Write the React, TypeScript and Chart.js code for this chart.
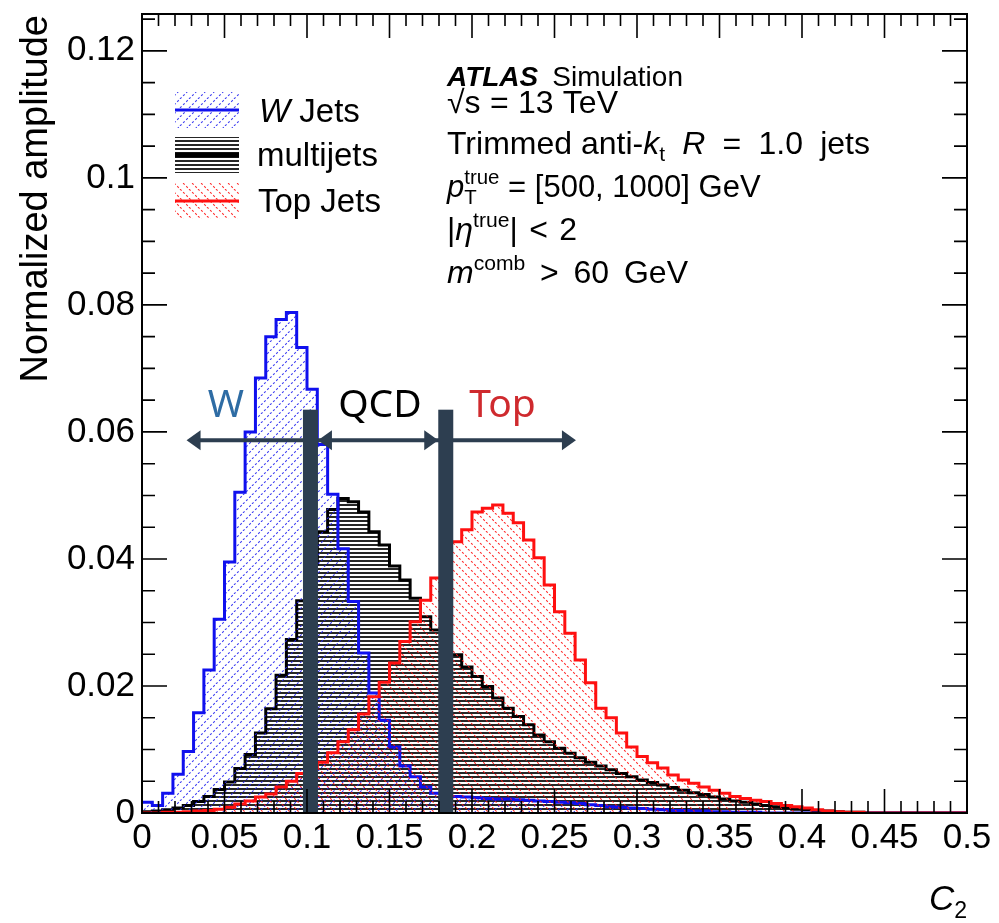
import React, { useEffect, useRef } from "react";
import { Chart, registerables } from "chart.js";

Chart.register(...registerables);

// ---------------- data ----------------
const X_MIN = 0;
const X_MAX = 0.5;
const Y_MIN = 0;
const Y_MAX = 0.1258;

const xTickValues = [0, 0.05, 0.1, 0.15, 0.2, 0.25, 0.3, 0.35, 0.4, 0.45, 0.5];
const yTickValues = [0, 0.02, 0.04, 0.06, 0.08, 0.1, 0.12];
const X_MINOR_STEP = 0.01;
const Y_MINOR_STEP = 0.005;

// 80 bins, 0 .. 0.5
const wJets = [
  0.0017, 0.0012, 0.0031, 0.0061, 0.0097, 0.0158, 0.0225, 0.0305, 0.0395, 0.0505,
  0.06, 0.0685, 0.075, 0.0777, 0.0788, 0.0733, 0.0667, 0.058, 0.0502, 0.0416,
  0.0333, 0.0252, 0.0189, 0.0146, 0.0104, 0.0074, 0.0057, 0.0041, 0.0031, 0.0028,
  0.0026, 0.0025, 0.0024, 0.0023, 0.0022, 0.0022, 0.0021, 0.002, 0.0019, 0.0018,
  0.0017, 0.0016, 0.0015, 0.0013, 0.0012, 0.001, 0.0009, 0.0008, 0.0007, 0.0006,
  0.0005, 0.0004, 0.0004, 0.0003, 0.0003, 0.0002, 0.0002, 0.0001, 0.0001, 0.0001,
  0, 0, 0, 0, 0, 0, 0, 0, 0, 0,
  0, 0, 0, 0, 0, 0, 0, 0, 0, 0,
];

const multijets = [
  0.0002, 0.0003, 0.0005, 0.0008, 0.0012, 0.0018, 0.0026, 0.0037, 0.0049, 0.007,
  0.0092, 0.0126, 0.0164, 0.0217, 0.0273, 0.0334, 0.0392, 0.0443, 0.0478, 0.0495,
  0.049, 0.0474, 0.0443, 0.0422, 0.0389, 0.0367, 0.0338, 0.0309, 0.0288, 0.0268,
  0.0249, 0.023, 0.0215, 0.0199, 0.0181, 0.0165, 0.0152, 0.0139, 0.0123, 0.0112,
  0.0102, 0.0094, 0.0087, 0.008, 0.0074, 0.0068, 0.0062, 0.0057, 0.0052, 0.0048,
  0.0044, 0.004, 0.0036, 0.0032, 0.0029, 0.0025, 0.0022, 0.0019, 0.0017, 0.0014,
  0.0012, 0.001, 0.0008, 0.0006, 0.0005, 0.0004, 0.0003, 0.0002, 0.0001, 0.0001,
  0, 0, 0, 0, 0, 0, 0, 0, 0, 0,
];

const topJets = [
  0, 0, 0.0001, 0.0001, 0.0002, 0.0003, 0.0004, 0.0006, 0.0009, 0.0014,
  0.0019, 0.0025, 0.003, 0.0041, 0.005, 0.0062, 0.0071, 0.008, 0.0095, 0.0112,
  0.0131, 0.0156, 0.0183, 0.0206, 0.0236, 0.027, 0.0301, 0.0335, 0.037, 0.04,
  0.0427, 0.0446, 0.0474, 0.048, 0.0485, 0.0472, 0.0457, 0.043, 0.0402, 0.0359,
  0.0317, 0.0283, 0.0241, 0.0205, 0.0165, 0.015, 0.0126, 0.0104, 0.0089, 0.0079,
  0.0071, 0.006, 0.0052, 0.0047, 0.0041, 0.0036, 0.0031, 0.0026, 0.0023, 0.002,
  0.0018, 0.0015, 0.0012, 0.001, 0.0008, 0.0005, 0.0003, 0.0002, 0.0001, 0.0001,
  0, 0, 0, 0, 0, 0, 0, 0, 0, 0,
];

const legendLabels = ["W Jets", "multijets", "Top Jets"];

// annotation values (data units)
const cutWQCD = 0.1021;
const cutQCDTop = 0.1841;
const cutBarTop = 0.0635;
const arrowY = 0.0587;
const arrowLeftEnd = 0.027;
const arrowRightEnd = 0.263;
const regionLabels = [
  { text: "W", x: 0.0509, y: 0.0624, color: "#2e6ca4" },
  { text: "QCD", x: 0.1442, y: 0.0624, color: "#000000" },
  { text: "Top", x: 0.2185, y: 0.0624, color: "#cf2a2e" },
];

// ---------------- helpers ----------------
const FONT = '"Liberation Sans", Arial, Helvetica, sans-serif';
const DARK = "#2d3e50";

function fmt(v: number) {
  return String(Number(v.toFixed(3)));
}

function toSteps(vals: number[]) {
  const bw = (X_MAX - X_MIN) / vals.length;
  const pts = vals.map((v, i) => ({ x: X_MIN + i * bw, y: v }));
  pts.push({ x: X_MAX, y: vals[vals.length - 1] });
  return pts;
}

function makePattern(kind: "w" | "m" | "t"): CanvasPattern | string {
  const c = document.createElement("canvas");
  const ctx = c.getContext("2d");
  if (!ctx) return "transparent";
  if (kind === "m") {
    c.width = 4;
    c.height = 4;
    ctx.fillStyle = "rgba(0,0,0,0.85)";
    ctx.fillRect(0, 0, 4, 2);
  } else {
    const s = 9;
    c.width = s;
    c.height = s;
    ctx.lineWidth = 1.1;
    ctx.setLineDash([2.2, 2.2]);
    ctx.strokeStyle = kind === "w" ? "rgba(40,40,240,0.9)" : "rgba(255,20,20,0.9)";
    for (const off of [-s, 0, s]) {
      ctx.beginPath();
      if (kind === "w") {
        ctx.moveTo(off, s);
        ctx.lineTo(off + s, 0);
      } else {
        ctx.moveTo(off, 0);
        ctx.lineTo(off + s, s);
      }
      ctx.stroke();
    }
  }
  const p = ctx.createPattern(c, "repeat");
  return p || "transparent";
}

// w: spaces inside this segment are widened to reach the target width
type Seg = { t?: string; it?: boolean; bold?: boolean; sup?: boolean; sub?: boolean; w?: boolean; stack?: [string, string] };

function drawRich(
  ctx: CanvasRenderingContext2D,
  x: number,
  y: number,
  segs: Seg[],
  size: number,
  target?: number,
  draw = true
): number {
  let extra = 0;
  if (target && draw) {
    const natural = drawRich(ctx, x, y, segs, size, undefined, false) - x;
    let spaces = 0;
    for (const s of segs) if (s.w && s.t) spaces += (s.t.match(/ /g) || []).length;
    if (spaces > 0) extra = Math.max(0, (target - natural) / spaces);
  }
  let cx = x;
  ctx.textAlign = "left";
  ctx.textBaseline = "alphabetic";
  for (const s of segs) {
    if (s.stack) {
      const small = size * 0.66;
      ctx.font = `${small}px ${FONT}`;
      const w1 = ctx.measureText(s.stack[0]).width;
      const w2 = ctx.measureText(s.stack[1]).width;
      if (draw) {
        ctx.fillText(s.stack[0], cx, y - size * 0.42);
        ctx.fillText(s.stack[1], cx, y + size * 0.22);
      }
      cx += Math.max(w1, w2);
      continue;
    }
    const sz = s.sub || s.sup ? size * 0.66 : size;
    ctx.font = `${s.it ? "italic " : ""}${s.bold ? "bold " : ""}${sz}px ${FONT}`;
    const dy = s.sup ? -size * 0.42 : s.sub ? size * 0.22 : 0;
    const txt = s.t || "";
    if (extra && s.w && txt.includes(" ")) {
      const parts = txt.split(" ");
      for (let i = 0; i < parts.length; i++) {
        if (parts[i]) {
          if (draw) ctx.fillText(parts[i], cx, y + dy);
          cx += ctx.measureText(parts[i]).width;
        }
        if (i < parts.length - 1) cx += ctx.measureText(" ").width + extra;
      }
    } else {
      if (draw) ctx.fillText(txt, cx, y + dy);
      cx += ctx.measureText(txt).width;
    }
  }
  return cx;
}

function arrowHead(ctx: CanvasRenderingContext2D, tipX: number, y: number, dir: number) {
  const len = 14;
  const half = 10;
  ctx.beginPath();
  ctx.moveTo(tipX, y);
  ctx.lineTo(tipX - dir * len, y - half);
  ctx.lineTo(tipX - dir * len, y + half);
  ctx.closePath();
  ctx.fill();
}

const framePlugin = {
  id: "rootFrame",
  afterDatasetsDraw(chart: any) {
    const { ctx, scales } = chart;
    const xs = scales.x;
    const ys = scales.y;
    const yB = ys.getPixelForValue(0);
    const yTopBar = ys.getPixelForValue(cutBarTop);
    const yArr = ys.getPixelForValue(arrowY);
    const x1 = xs.getPixelForValue(cutWQCD);
    const x2 = xs.getPixelForValue(cutQCDTop);
    const barW = 15;
    ctx.save();
    ctx.strokeStyle = DARK;
    ctx.fillStyle = DARK;
    ctx.lineWidth = 4;
    const xl = xs.getPixelForValue(arrowLeftEnd);
    const xr = xs.getPixelForValue(arrowRightEnd);
    ctx.beginPath();
    ctx.moveTo(xl + 8, yArr);
    ctx.lineTo(xr - 8, yArr);
    ctx.stroke();
    arrowHead(ctx, xl, yArr, -1);
    arrowHead(ctx, x1 + barW / 2, yArr, -1);
    arrowHead(ctx, x2 - barW / 2, yArr, 1);
    arrowHead(ctx, xr, yArr, 1);
    ctx.fillRect(x1 - barW / 2, yTopBar, barW, yB - yTopBar);
    ctx.fillRect(x2 - barW / 2, yTopBar, barW, yB - yTopBar);
    ctx.font = `39px "Noto Sans", "Open Sans", sans-serif`;
    ctx.textAlign = "center";
    ctx.textBaseline = "alphabetic";
    for (const l of regionLabels) {
      ctx.fillStyle = l.color;
      ctx.fillText(l.text, xs.getPixelForValue(l.x), ys.getPixelForValue(l.y));
    }
    ctx.restore();
  },
  afterDraw(chart: any) {
    const { ctx, chartArea, scales } = chart;
    const { left, right, top, bottom } = chartArea;
    const xs = scales.x;
    const ys = scales.y;
    ctx.save();
    ctx.strokeStyle = "#000";
    ctx.lineWidth = 2;
    ctx.strokeRect(left, top, right - left, bottom - top);
    ctx.lineWidth = 1.6;
    ctx.beginPath();
    const nX = Math.round((X_MAX - X_MIN) / X_MINOR_STEP);
    for (let i = 0; i <= nX; i++) {
      const v = X_MIN + i * X_MINOR_STEP;
      const major = xTickValues.some((t) => Math.abs(t - v) < 1e-9);
      const len = major ? 24 : 12;
      const px = xs.getPixelForValue(v);
      ctx.moveTo(px, bottom);
      ctx.lineTo(px, bottom - len);
      ctx.moveTo(px, top);
      ctx.lineTo(px, top + len);
    }
    const nY = Math.floor((Y_MAX - Y_MIN) / Y_MINOR_STEP + 1e-9);
    for (let i = 0; i <= nY; i++) {
      const v = Y_MIN + i * Y_MINOR_STEP;
      const major = yTickValues.some((t) => Math.abs(t - v) < 1e-9);
      const len = major ? 25 : 13;
      const py = ys.getPixelForValue(v);
      ctx.moveTo(left, py);
      ctx.lineTo(left + len, py);
      ctx.moveTo(right, py);
      ctx.lineTo(right - len, py);
    }
    ctx.stroke();

    // axis titles
    ctx.fillStyle = "#000";
    ctx.save();
    ctx.translate(47, 15);
    ctx.rotate(-Math.PI / 2);
    ctx.font = `38px ${FONT}`;
    ctx.textAlign = "right";
    ctx.textBaseline = "alphabetic";
    ctx.fillText("Normalized amplitude", 0, 0);
    ctx.restore();
    drawRich(ctx, 929, 910, [{ t: "C", it: true }, { t: "2", sub: true }], 35);

    // legend
    const pats = [makePattern("w"), makePattern("m"), makePattern("t")];
    const lineCols = ["#1010ee", "#000000", "#ff1010"];
    const rowsY = [110, 155, 201];
    const bx = 175;
    const bw = 64;
    const bh = 36;
    for (let i = 0; i < 3; i++) {
      const cy = rowsY[i];
      ctx.fillStyle = pats[i] as any;
      ctx.fillRect(bx, cy - bh / 2, bw, bh);
      ctx.strokeStyle = lineCols[i];
      ctx.lineWidth = i === 1 ? 5 : 3;
      ctx.beginPath();
      ctx.moveTo(bx, cy);
      ctx.lineTo(bx + bw, cy);
      ctx.stroke();
    }
    ctx.fillStyle = "#000";
    drawRich(ctx, 259, 122, [{ t: "W", it: true }, { t: " Jets" }], 33);
    drawRich(ctx, 257, 166, [{ t: legendLabels[1] }], 33);
    drawRich(ctx, 258, 212, [{ t: legendLabels[2] }], 33);

    // ATLAS label
    const tx = 447;
    const ts = 32;
    const ax = drawRich(ctx, tx, 86, [{ t: "ATLAS", it: true, bold: true }], 28);
    drawRich(ctx, ax + 14, 86, [{ t: "Simulation" }], 28);
    drawRich(ctx, tx, 113, [{ t: "√s" }, { t: " = 13 TeV", w: true }], ts, 171);
    drawRich(
      ctx,
      tx,
      154,
      [{ t: "Trimmed anti-" }, { t: "k", it: true }, { t: "t", sub: true }, { t: " ", w: true }, { t: "R", it: true }, { t: " = 1.0 jets", w: true }],
      ts,
      423
    );
    drawRich(ctx, tx, 197, [{ t: "p", it: true }, { stack: ["true", "T"] }, { t: " = [500, 1000] GeV" }], 31);
    drawRich(ctx, tx, 240, [{ t: "|" }, { t: "η", it: true }, { t: "true", sup: true }, { t: "| < 2", w: true }], ts, 130);
    drawRich(ctx, tx, 283, [{ t: "m", it: true }, { t: "comb", sup: true }, { t: " > 60 GeV", w: true }], ts, 241);
    ctx.restore();
  },
};

export default function App() {
  const ref = useRef<HTMLCanvasElement | null>(null);
  useEffect(() => {
    if (!ref.current) return;
    const mk = (label: string, vals: number[], color: string, kind: "w" | "m" | "t", order: number) => ({
      label,
      data: toSteps(vals),
      stepped: "before" as const,
      borderColor: color,
      borderWidth: 3,
      backgroundColor: makePattern(kind),
      fill: "origin",
      pointRadius: 0,
      order,
    });
    const chart = new Chart(ref.current, {
      type: "line",
      data: {
        datasets: [
          mk(legendLabels[2], topJets, "#ff1010", "t", 1),
          mk(legendLabels[0], wJets, "#1010ee", "w", 2),
          mk(legendLabels[1], multijets, "#000000", "m", 3),
        ] as any,
      },
      options: {
        animation: false,
        responsive: false,
        maintainAspectRatio: false,
        layout: { padding: { left: 0, right: 32, top: 14, bottom: 0 } },
        plugins: { legend: { display: false }, tooltip: { enabled: false } },
        scales: {
          x: {
            type: "linear",
            min: X_MIN,
            max: X_MAX,
            afterBuildTicks: (s: any) => {
              s.ticks = xTickValues.map((v) => ({ value: v }));
            },
            afterFit: (s: any) => {
              s.height = 110;
              s.paddingLeft = 0;
              s.paddingRight = 0;
            },
            grid: { display: false, drawTicks: false },
            border: { display: false },
            ticks: {
              color: "#000",
              font: { family: FONT, size: 35 },
              padding: 4,
              maxRotation: 0,
              autoSkip: false,
              callback: (v: any) => fmt(Number(v)),
            },
          },
          y: {
            type: "linear",
            min: Y_MIN,
            max: Y_MAX,
            afterBuildTicks: (s: any) => {
              s.ticks = yTickValues.map((v) => ({ value: v }));
            },
            afterFit: (s: any) => {
              s.width = 142;
              s.paddingTop = 0;
              s.paddingBottom = 0;
            },
            grid: { display: false, drawTicks: false },
            border: { display: false },
            ticks: {
              color: "#000",
              font: { family: FONT, size: 35 },
              padding: 7,
              autoSkip: false,
              callback: (v: any) => fmt(Number(v)),
            },
          },
        },
      } as any,
      plugins: [framePlugin as any],
    });
    return () => chart.destroy();
  }, []);
  return (
    <div style={{ position: "fixed", left: 0, top: 0, width: 999, height: 923, background: "#fff" }}>
      <canvas ref={ref} width={999} height={923} style={{ width: 999, height: 923, display: "block" }} />
    </div>
  );
}
